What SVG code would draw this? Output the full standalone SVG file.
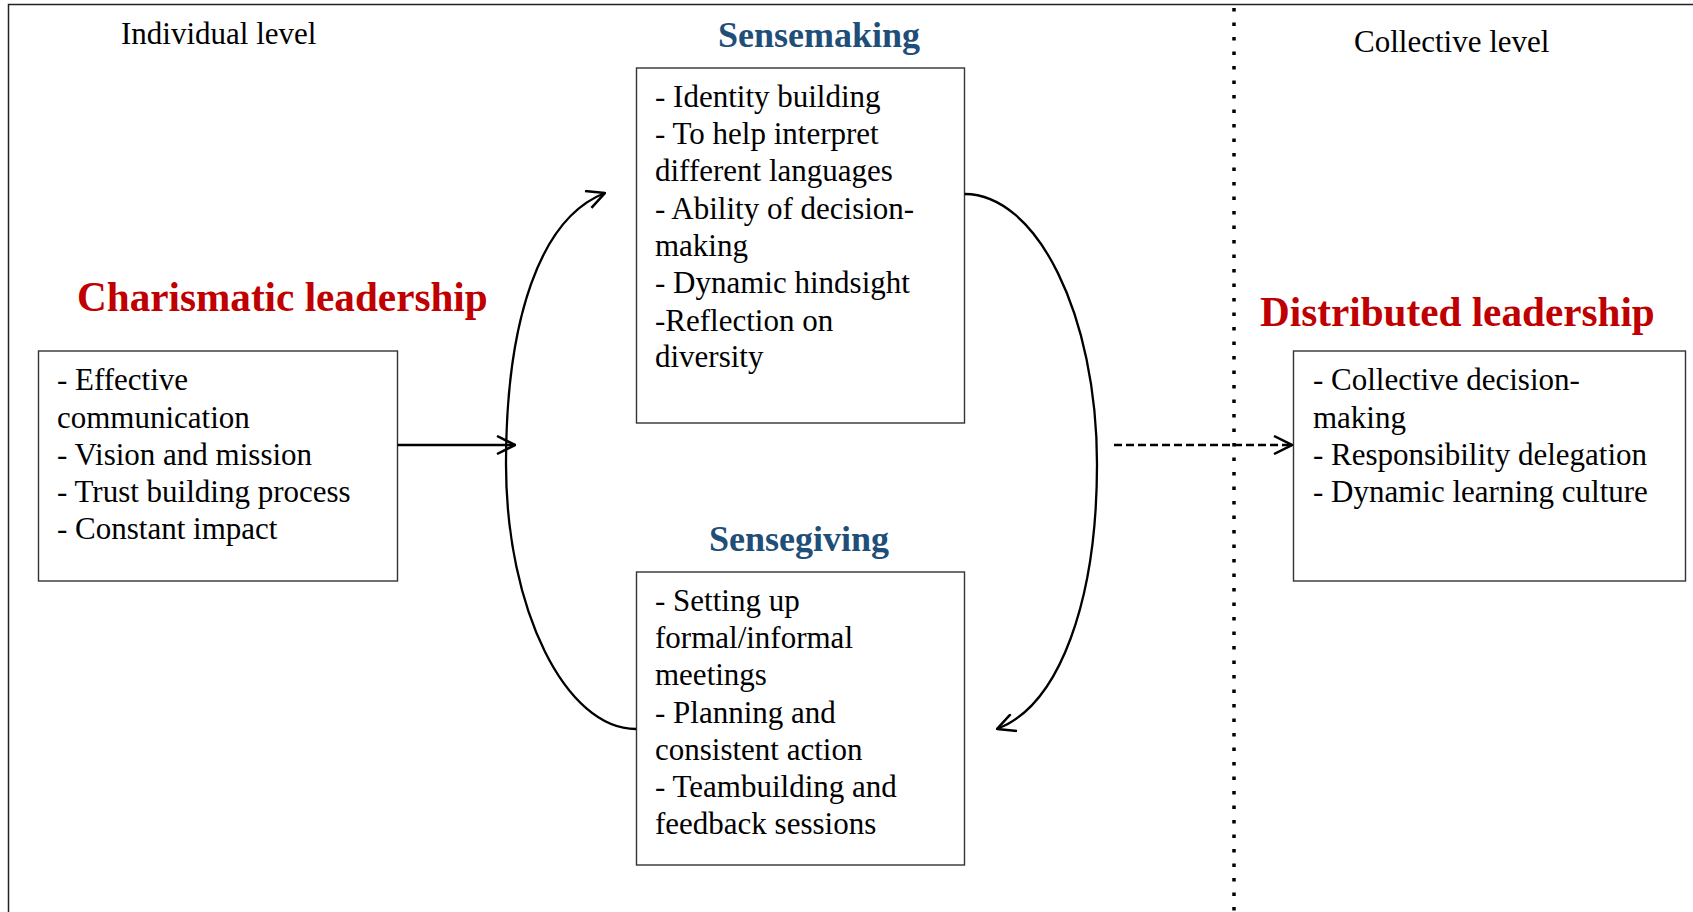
<svg xmlns="http://www.w3.org/2000/svg" width="1693" height="912" viewBox="0 0 1693 912">
<style>
.frame{fill:none;stroke:#222;stroke-width:1.5}
.box{fill:#fff;stroke:#333;stroke-width:1.4}
.body{font-family:"Liberation Serif","Times New Roman",serif;font-size:31px;fill:#000}
.red{font-family:"Liberation Serif","Times New Roman",serif;font-size:41.2px;font-weight:bold;fill:#C00000}
.blue{font-family:"Liberation Serif","Times New Roman",serif;font-size:36px;font-weight:bold;fill:#1F4E79}
.conn{fill:none;stroke:#000;stroke-width:2.3}
.dash{stroke-dasharray:8 4}
.dots{fill:none;stroke:#000;stroke-width:3.5;stroke-dasharray:3.5 11}
</style>
<defs>
<marker id="open" viewBox="0 0 20 20" refX="19" refY="10" markerWidth="20" markerHeight="20" markerUnits="userSpaceOnUse" orient="auto">
<path d="M1,1 L19,10 L1,19" fill="none" stroke="#000" stroke-width="2.5"/>
</marker>
</defs>
<rect width="1693" height="912" fill="#fff"/>
<path class="frame" d="M8.5,920 V4.5 H1700"/>
<line class="dots" x1="1234" y1="8" x2="1234" y2="912"/>
<text class="body" x="121" y="44">Individual level</text>
<text class="body" x="1354" y="52">Collective level</text>

<g id="charismatic">
<text class="red" x="77" y="311">Charismatic leadership</text>
<rect class="box" x="38.5" y="351" width="359" height="230"/>
<text class="body" x="57" y="390">- Effective</text>
<text class="body" x="57" y="428">communication</text>
<text class="body" x="57" y="465">- Vision and mission</text>
<text class="body" x="57" y="502">- Trust building process</text>
<text class="body" x="57" y="539">- Constant impact</text>
</g>

<g id="sensemaking">
<text class="blue" x="718" y="47">Sensemaking</text>
<rect class="box" x="636.5" y="68" width="328" height="355"/>
<text class="body" x="655" y="107">- Identity building</text>
<text class="body" x="655" y="144">- To help interpret</text>
<text class="body" x="655" y="181">different languages</text>
<text class="body" x="655" y="218.5">- Ability of decision-</text>
<text class="body" x="655" y="256">making</text>
<text class="body" x="655" y="293">- Dynamic hindsight</text>
<text class="body" x="655" y="330.5">-Reflection on</text>
<text class="body" x="655" y="367">diversity</text>
</g>

<g id="sensegiving">
<text class="blue" x="709" y="551">Sensegiving</text>
<rect class="box" x="636.5" y="572" width="328" height="293"/>
<text class="body" x="655" y="611">- Setting up</text>
<text class="body" x="655" y="648">formal/informal</text>
<text class="body" x="655" y="685">meetings</text>
<text class="body" x="655" y="722.5">- Planning and</text>
<text class="body" x="655" y="759.5">consistent action</text>
<text class="body" x="655" y="797">- Teambuilding and</text>
<text class="body" x="655" y="834">feedback sessions</text>
</g>

<g id="distributed">
<text class="red" x="1260" y="326">Distributed leadership</text>
<rect class="box" x="1293.5" y="351" width="392" height="230"/>
<text class="body" x="1313" y="390">- Collective decision-</text>
<text class="body" x="1313" y="428">making</text>
<text class="body" x="1313" y="465">- Responsibility delegation</text>
<text class="body" x="1313" y="502">- Dynamic learning culture</text>
</g>

<g id="connectors">
<path class="conn" marker-end="url(#open)" d="M636,729 C566,729 506,610 506,464 C506,320 540,218 605,193"/>
<path class="conn" marker-end="url(#open)" d="M964.5,194 C1037,194 1097,315 1097,464 C1097,600 1060,705 997,729"/>
<line class="conn" marker-end="url(#open)" x1="397.5" y1="445" x2="515" y2="445"/>
<line class="conn dash" marker-end="url(#open)" x1="1114" y1="445" x2="1292" y2="445"/>
</g>
</svg>
